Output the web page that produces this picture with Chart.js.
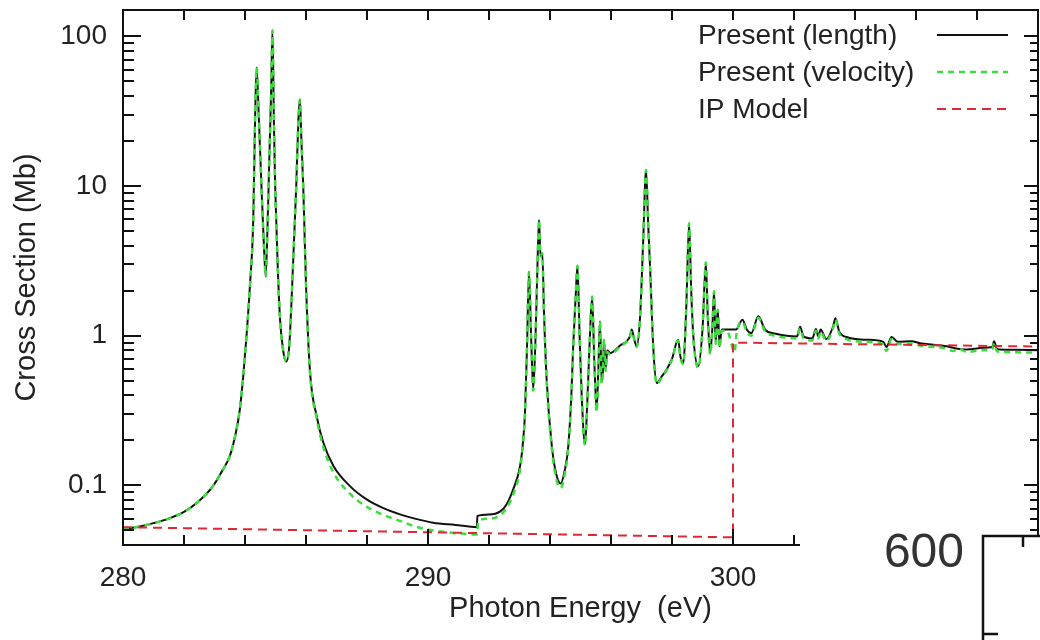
<!DOCTYPE html>
<html>
<head>
<meta charset="utf-8">
<script src="https://cdn.jsdelivr.net/npm/chart.js@4.4.1/dist/chart.umd.min.js"></script>
<style>
  html, body { margin: 0; padding: 0; background: #fff; }
  canvas { display: block; }
</style>
</head>
<body>
<canvas id="crossChart" width="1040" height="640"></canvas>
<script>
// values (eV, Mb)
const energyLength = [280.0, 280.5, 281.0, 281.5, 282.0, 282.5, 282.95, 283.25, 283.5, 283.7, 283.83, 283.95, 284.05, 284.16, 284.27, 284.33, 284.38, 284.45, 284.54, 284.62, 284.68, 284.74, 284.8, 284.86, 284.9, 284.95, 284.99, 285.07, 285.15, 285.25, 285.35, 285.45, 285.53, 285.59, 285.68, 285.75, 285.8, 285.85, 285.91, 286.0, 286.13, 286.35, 286.57, 286.9, 287.44, 287.99, 288.5, 289.08, 289.6, 290.17, 290.9, 291.6, 291.62, 292.0, 292.36, 292.58, 292.8, 293.02, 293.12, 293.18, 293.25, 293.31, 293.38, 293.45, 293.52, 293.58, 293.64, 293.69, 293.75, 293.8, 293.89, 294.06, 294.2, 294.35, 294.48, 294.6, 294.7, 294.76, 294.84, 294.9, 294.97, 295.04, 295.15, 295.22, 295.3, 295.38, 295.45, 295.53, 295.59, 295.64, 295.69, 295.73, 295.77, 295.82, 295.88, 295.97, 296.3, 296.62, 296.68, 296.76, 296.84, 296.95, 297.05, 297.15, 297.22, 297.28, 297.39, 297.5, 297.65, 297.82, 298.0, 298.2, 298.28, 298.37, 298.47, 298.56, 298.63, 298.7, 298.86, 299.0, 299.11, 299.17, 299.25, 299.32, 299.38, 299.43, 299.5, 299.56, 299.63, 299.8, 300.1, 300.31, 300.45, 300.6, 300.83, 301.05, 301.4, 301.76, 302.1, 302.2, 302.31, 302.6, 302.72, 302.8, 302.87, 303.06, 303.28, 303.36, 303.48, 303.72, 304.38, 304.93, 305.03, 305.2, 305.4, 305.86, 306.13, 306.57, 307.0, 307.22, 307.66, 308.2, 308.5, 308.56, 308.65, 308.75, 309.3, 310.0];
const sigmaLength = [0.0509, 0.053, 0.056, 0.06, 0.0665, 0.079, 0.099, 0.125, 0.157, 0.225, 0.321, 0.56, 1.0, 2.13, 5.9, 27.5, 62, 30, 9.9, 4.0, 2.49, 5.5, 16, 45, 110, 25, 9.9, 3.0, 1.28, 0.8, 0.674, 0.85, 1.8, 3.56, 10, 27.5, 37.8, 20, 9.9, 2.2, 0.58, 0.29, 0.193, 0.135, 0.099, 0.0806, 0.071, 0.0641, 0.0598, 0.0564, 0.0545, 0.0527, 0.0625, 0.064, 0.0668, 0.075, 0.095, 0.135, 0.2, 0.305, 0.9, 2.68, 1.0, 0.44, 0.9, 2.5, 5.93, 3.4, 3.56, 1.5, 0.51, 0.183, 0.12, 0.103, 0.125, 0.183, 0.4, 0.849, 1.8, 2.93, 1.0, 0.394, 0.188, 0.35, 0.9, 1.83, 0.7, 0.32, 0.65, 1.25, 0.5, 0.55, 0.94, 0.6, 0.8, 0.766, 0.86, 0.99, 1.1, 0.95, 0.85, 1.3, 4.0, 12.8, 5.5, 2.9, 0.807, 0.483, 0.53, 0.593, 0.7, 0.94, 0.72, 0.658, 1.6, 5.64, 2.0, 0.99, 0.625, 1.1, 3.08, 1.4, 0.766, 1.1, 1.98, 0.9, 1.49, 0.85, 1.1, 1.1, 1.1, 1.28, 1.1, 1.04, 1.35, 1.1, 1.03, 1.0, 0.99, 1.15, 0.99, 0.96, 1.11, 0.99, 1.1, 0.95, 1.15, 1.31, 1.07, 0.98, 0.94, 0.91, 0.84, 0.98, 0.91, 0.92, 0.89, 0.87, 0.85, 0.83, 0.81, 0.83, 0.84, 0.92, 0.82, 0.81, 0.805, 0.8];

const energyVelocity = [280.0, 280.5, 281.0, 281.5, 282.0, 282.5, 282.95, 283.25, 283.5, 283.7, 283.83, 283.95, 284.05, 284.16, 284.27, 284.33, 284.38, 284.45, 284.54, 284.62, 284.68, 284.74, 284.8, 284.86, 284.9, 284.95, 284.99, 285.07, 285.15, 285.25, 285.35, 285.45, 285.53, 285.59, 285.68, 285.75, 285.8, 285.85, 285.91, 286.0, 286.13, 286.35, 286.57, 286.9, 287.44, 287.99, 288.5, 289.08, 289.6, 290.17, 290.9, 291.6, 291.65, 292.0, 292.36, 292.58, 292.8, 293.02, 293.12, 293.18, 293.25, 293.31, 293.38, 293.45, 293.52, 293.58, 293.64, 293.69, 293.75, 293.8, 293.89, 294.06, 294.2, 294.35, 294.48, 294.6, 294.7, 294.76, 294.84, 294.9, 294.97, 295.04, 295.15, 295.22, 295.3, 295.38, 295.45, 295.53, 295.59, 295.64, 295.69, 295.73, 295.77, 295.82, 295.88, 295.97, 296.3, 296.62, 296.68, 296.76, 296.84, 296.95, 297.05, 297.15, 297.22, 297.28, 297.39, 297.5, 297.65, 297.82, 298.0, 298.2, 298.28, 298.37, 298.47, 298.56, 298.63, 298.7, 298.86, 299.0, 299.11, 299.17, 299.25, 299.32, 299.38, 299.43, 299.5, 299.56, 299.63, 299.8, 300.05, 300.12, 300.31, 300.45, 300.6, 300.83, 301.05, 301.4, 301.76, 302.1, 302.2, 302.31, 302.6, 302.72, 302.8, 302.87, 303.06, 303.28, 303.36, 303.48, 303.72, 304.38, 304.93, 305.03, 305.2, 305.4, 305.86, 306.13, 306.57, 307.0, 307.22, 307.4, 307.66, 308.2, 308.5, 308.56, 308.65, 308.75, 309.3, 310.0];
const sigmaVelocity = [0.0509, 0.053, 0.056, 0.06, 0.0665, 0.079, 0.099, 0.125, 0.157, 0.225, 0.321, 0.56, 1.0, 2.13, 5.9, 27.5, 62, 30, 9.9, 4.0, 2.49, 5.5, 16, 45, 110, 25, 9.9, 3.0, 1.28, 0.8, 0.674, 0.85, 1.8, 3.56, 10, 27.5, 37.8, 20, 9.9, 2.2, 0.57, 0.28, 0.18, 0.122, 0.088, 0.072, 0.064, 0.058, 0.053, 0.05, 0.048, 0.047, 0.058, 0.06, 0.063, 0.071, 0.088, 0.128, 0.195, 0.3, 0.9, 2.68, 1.0, 0.43, 0.9, 2.5, 5.93, 3.4, 3.56, 1.5, 0.5, 0.175, 0.112, 0.096, 0.118, 0.178, 0.39, 0.84, 1.8, 2.93, 1.0, 0.39, 0.185, 0.35, 0.9, 1.83, 0.7, 0.31, 0.65, 1.25, 0.48, 0.55, 0.94, 0.58, 0.78, 0.75, 0.85, 0.98, 1.08, 0.94, 0.84, 1.3, 4.0, 12.8, 5.5, 2.9, 0.8, 0.475, 0.52, 0.585, 0.69, 0.93, 0.71, 0.645, 1.6, 5.64, 2.0, 0.97, 0.61, 1.1, 3.08, 1.4, 0.75, 1.1, 1.98, 0.88, 1.49, 0.83, 1.08, 1.08, 0.78, 1.05, 1.24, 1.06, 1.0, 1.32, 1.07, 1.0, 0.97, 0.96, 1.12, 0.96, 0.93, 1.08, 0.96, 1.07, 0.92, 1.12, 1.28, 1.04, 0.95, 0.91, 0.88, 0.79, 0.95, 0.88, 0.89, 0.86, 0.84, 0.82, 0.79, 0.82, 0.78, 0.8, 0.81, 0.89, 0.79, 0.78, 0.775, 0.77];

const energyIP = [280.0, 300.0, 300.0, 310.0];
const sigmaIP = [0.0526, 0.045, 0.9, 0.847];

const seriesNames = ['Present (length)', 'Present (velocity)', 'IP Model'];

// axis ticks
const xTickValues = [280, 282, 284, 286, 288, 290, 292, 294, 296, 298, 300, 302, 304, 306, 308, 310];
const xTickLabels = { 280: '280', 290: '290', 300: '300' };
const yTickValues = [0.05, 0.06, 0.07, 0.08, 0.09, 0.1, 0.2, 0.3, 0.4, 0.5, 0.6, 0.7, 0.8, 0.9, 1, 2, 3, 4, 5, 6, 7, 8, 9, 10, 20, 30, 40, 50, 60, 70, 80, 90, 100];
const yTickLabels = { 0.1: '0.1', 1: '1', 10: '10', 100: '100' };

const FONT = '"Liberation Sans", Arial, Helvetica, sans-serif';
const INK = '#222';

function points(xs, ys) {
    return xs.map((x, i) => ({ x: x, y: ys[i] }));
}

// keep the plot box where the figure has it: no extra room for edge labels
function noEdgePadding(s) {
    s.paddingTop = 0;
    s.paddingBottom = 0;
    s.paddingLeft = 0;
    s.paddingRight = 0;
}

// frame with inward ticks, legend, and the neighbouring panel that overlaps the corner
const framePlugin = {
    id: 'framePlugin',
    afterDraw(chart) {
        const c = chart.ctx;
        const a = chart.chartArea;
        const xs = chart.scales.x;
        const ys = chart.scales.y;
        const cutX = 800;

        c.save();
        c.strokeStyle = '#111';
        c.lineWidth = 2;
        c.beginPath();
        c.moveTo(cutX, a.bottom);
        c.lineTo(a.left, a.bottom);
        c.lineTo(a.left, a.top);
        c.lineTo(a.right, a.top);
        c.lineTo(a.right, a.bottom);
        c.stroke();

        // tick marks (the scales' own auto-skip thins scale.ticks, so walk the lists)
        xTickValues.forEach(v => {
            const px = Math.round(xs.getPixelForValue(v));
            const major = xTickLabels[v] !== undefined;
            c.beginPath();
            if (px < cutX) {
                c.moveTo(px, a.bottom);
                c.lineTo(px, a.bottom - (major ? 16 : 10));
            }
            c.moveTo(px, a.top);
            c.lineTo(px, a.top + 10);
            c.stroke();
        });
        yTickValues.forEach(v => {
            const py = Math.round(ys.getPixelForValue(v));
            const major = yTickLabels[v] !== undefined;
            c.beginPath();
            c.moveTo(a.left, py);
            c.lineTo(a.left + (major ? 18 : 11), py);
            c.moveTo(a.right, py);
            c.lineTo(a.right - (major ? 14 : 8), py);
            c.stroke();
        });

        // legend: text left, line sample right
        const rows = [35, 72, 109];
        c.font = '28px ' + FONT;
        c.textBaseline = 'middle';
        c.textAlign = 'left';
        chart.data.datasets.forEach((ds, i) => {
            c.fillStyle = INK;
            c.fillText(ds.label, 698, rows[i] + 1);
            c.strokeStyle = ds.borderColor;
            c.lineWidth = ds.borderWidth;
            c.setLineDash(ds.borderDash || []);
            c.beginPath();
            c.moveTo(937, rows[i]);
            c.lineTo(1008, rows[i]);
            c.stroke();
        });
        c.setLineDash([]);

        // neighbouring panel covering the lower right corner
        c.fillStyle = '#fff';
        c.fillRect(cutX + 1, 537, chart.width - cutX, chart.height - 537);
        c.fillStyle = '#333';
        c.font = '48px ' + FONT;
        c.textAlign = 'right';
        c.textBaseline = 'alphabetic';
        c.fillText('600', 964, 567);
        c.strokeStyle = '#111';
        c.lineWidth = 2.5;
        c.beginPath();
        c.moveTo(983, 640);
        c.lineTo(983, 536);
        c.lineTo(1040, 536);
        c.moveTo(1023, 536);
        c.lineTo(1023, 547);
        c.moveTo(983, 634);
        c.lineTo(998, 634);
        c.stroke();
        c.restore();
    }
};

const ctx = document.getElementById('crossChart').getContext('2d');
new Chart(ctx, {
    type: 'line',
    data: {
        datasets: [
            {
                label: seriesNames[0],
                data: points(energyLength, sigmaLength),
                borderColor: '#111',
                borderWidth: 2,
                cubicInterpolationMode: 'monotone',
                order: 3
            },
            {
                label: seriesNames[1],
                data: points(energyVelocity, sigmaVelocity),
                borderColor: 'rgb(60, 220, 60)',
                borderWidth: 2.5,
                borderDash: [6, 5],
                cubicInterpolationMode: 'monotone',
                order: 2
            },
            {
                label: seriesNames[2],
                data: points(energyIP, sigmaIP),
                borderColor: 'rgb(222, 40, 50)',
                borderWidth: 2,
                borderDash: [9, 6],
                order: 1
            }
        ]
    },
    options: {
        responsive: false,
        animation: false,
        elements: {
            point: { radius: 0 },
            line: { tension: 0, fill: false }
        },
        layout: { padding: { top: 10, right: 2, left: 0, bottom: 0 } },
        plugins: {
            legend: { display: false },
            tooltip: { enabled: false }
        },
        scales: {
            x: {
                type: 'linear',
                min: 280,
                max: 310,
                grid: { display: false, drawTicks: false },
                border: { display: false },
                afterBuildTicks: s => { s.ticks = xTickValues.map(v => ({ value: v })); },
                afterFit: s => { s.height = 95; noEdgePadding(s); },
                ticks: {
                    autoSkip: false,
                    maxRotation: 0,
                    padding: 16,
                    color: INK,
                    font: { family: FONT, size: 28 },
                    callback: v => xTickLabels[v] !== undefined ? xTickLabels[v] : null
                },
                title: {
                    display: true,
                    text: 'Photon Energy  (eV)',
                    color: INK,
                    font: { family: FONT, size: 29 },
                    padding: { top: 0, bottom: 14 }
                }
            },
            y: {
                type: 'logarithmic',
                min: 0.04,
                max: 150,
                grid: { display: false, drawTicks: false },
                border: { display: false },
                afterBuildTicks: s => { s.ticks = yTickValues.map(v => ({ value: v })); },
                afterFit: s => { s.width = 123; noEdgePadding(s); },
                ticks: {
                    autoSkip: false,
                    padding: 16,
                    color: INK,
                    font: { family: FONT, size: 28 },
                    callback: v => yTickLabels[v] !== undefined ? yTickLabels[v] : null
                },
                title: {
                    display: true,
                    text: 'Cross Section (Mb)',
                    color: INK,
                    font: { family: FONT, size: 29 },
                    padding: { top: 10, bottom: 0 }
                }
            }
        }
    },
    plugins: [framePlugin]
});
</script>
</body>
</html>
